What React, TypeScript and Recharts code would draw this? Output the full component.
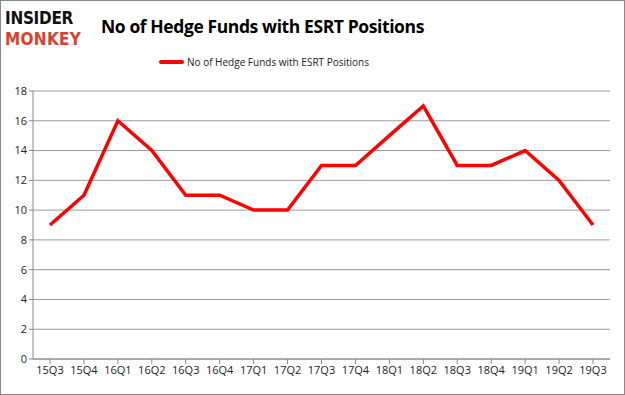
import { LineChart, Line, XAxis, YAxis, CartesianGrid } from "recharts";

const quarters = [
  "15Q3", "15Q4", "16Q1", "16Q2", "16Q3", "16Q4", "17Q1", "17Q2", "17Q3",
  "17Q4", "18Q1", "18Q2", "18Q3", "18Q4", "19Q1", "19Q2", "19Q3",
];
const hedgeFunds = [9, 11, 16, 14, 11, 11, 10, 10, 13, 13, 15, 17, 13, 13, 14, 12, 9];
const yTicks = [0, 2, 4, 6, 8, 10, 12, 14, 16, 18];
const seriesName = "No of Hedge Funds with ESRT Positions";

const data = quarters.map((q, i) => ({ quarter: q, funds: hedgeFunds[i] }));

const font = "Open Sans, Calibri, Carlito, sans-serif";

const logoWord = {
  position: "absolute" as const,
  left: 4,
  fontFamily: "DejaVu Sans Condensed, DejaVu Sans, sans-serif",
  fontWeight: 900,
  lineHeight: "20px",
  fontSize: 17,
  whiteSpace: "nowrap" as const,
};

export default function App() {
  return (
    <div
      style={{
        position: "absolute",
        left: 0,
        top: 0,
        width: 623,
        height: 393,
        border: "1px solid #888",
        background: "#fff",
        overflow: "hidden",
      }}
    >
      {/* logo */}
      <div style={{ ...logoWord, top: 7, color: "#111", letterSpacing: -0.3 }}>INSIDER</div>
      <div style={{ ...logoWord, top: 28, color: "#d9412e", letterSpacing: 0.3 }}>MONKEY</div>
      <div
        style={{
          position: "absolute",
          left: 100,
          top: 13,
          fontFamily: font,
          fontWeight: 700,
          fontSize: 17.5,
          color: "#000",
          letterSpacing: -0.4,
          whiteSpace: "nowrap",
        }}
      >
        {seriesName}
      </div>
      {/* legend */}
      <div
        style={{
          position: "absolute",
          left: 158,
          top: 54,
          display: "flex",
          alignItems: "center",
          fontFamily: font,
          fontSize: 10,
          color: "#222",
          whiteSpace: "nowrap",
        }}
      >
        <div style={{ width: 25, height: 4, background: "#ff0000", borderRadius: 2, marginRight: 3 }} />
        <span>{seriesName}</span>
      </div>
      <div style={{ position: "absolute", left: -1, top: -1 }}>
        <LineChart width={625} height={395} data={data} margin={{ top: 91, right: 15, bottom: 0, left: 0 }}>
          <CartesianGrid vertical={false} stroke="#9a9a9a" strokeWidth={1} />
          <XAxis
            dataKey="quarter"
            interval={0}
            padding={{ left: 17, right: 17 }}
            height={36}
            tick={{ fill: "#222", fontSize: 11, fontFamily: font }}
            tickLine={{ stroke: "#888" }}
            tickSize={5}
            axisLine={{ stroke: "#888" }}
          />
          <YAxis
            domain={[0, 18]}
            ticks={yTicks}
            interval={0}
            width={33}
            tick={{ fill: "#222", fontSize: 11, fontFamily: font }}
            tickLine={{ stroke: "#888" }}
            tickSize={4}
            axisLine={{ stroke: "#888" }}
          />
          <Line
            type="linear"
            dataKey="funds"
            name={seriesName}
            stroke="#ff0000"
            strokeWidth={3.5}
            dot={false}
            isAnimationActive={false}
          />
        </LineChart>
      </div>
    </div>
  );
}
